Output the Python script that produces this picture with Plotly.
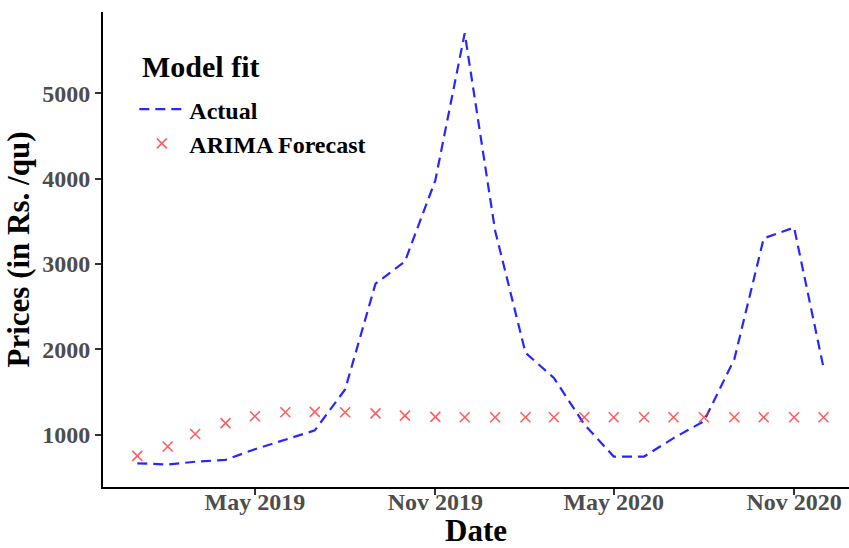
import plotly.graph_objects as go

# Monthly observations, Jan 2019 - Dec 2020
dates = [
    "2019-01-01", "2019-02-01", "2019-03-01", "2019-04-01", "2019-05-01", "2019-06-01",
    "2019-07-01", "2019-08-01", "2019-09-01", "2019-10-01", "2019-11-01", "2019-12-01",
    "2020-01-01", "2020-02-01", "2020-03-01", "2020-04-01", "2020-05-01", "2020-06-01",
    "2020-07-01", "2020-08-01", "2020-09-01", "2020-10-01", "2020-11-01", "2020-12-01",
]
actual = [
    665, 650, 683, 705, 830, 938, 1050, 1530, 2770, 3030, 3980, 5705,
    3390, 1960, 1665, 1120, 744, 744, 960, 1157, 1884, 3300, 3428, 1786,
]
arima_forecast = [
    752, 862, 1008, 1136, 1216, 1263, 1267, 1263, 1250, 1224, 1208, 1204,
    1204, 1204, 1204, 1204, 1204, 1204, 1204, 1204, 1204, 1204, 1204, 1204,
]
tick_dates = ["2019-05-01", "2019-11-01", "2020-05-01", "2020-11-01"]
tick_labels = ["May 2019", "Nov 2019", "May 2020", "Nov 2020"]
y_ticks = [1000, 2000, 3000, 4000, 5000]

serif = "Liberation Serif"

fig = go.Figure()
fig.add_trace(go.Scatter(
    x=dates, y=actual, mode="lines", name="Actual",
    line=dict(color="rgba(0,0,255,0.85)", width=2.2, dash="10px,6px"),
    legendgroup="a",
))
fig.add_trace(go.Scatter(
    x=dates, y=arima_forecast, mode="markers", name="ARIMA Forecast",
    marker=dict(symbol="x-thin", size=10, line=dict(color="rgba(255,40,40,0.75)", width=1.6)),
    legendgroup="b",
))

axis_common = dict(
    showline=True, linecolor="black", linewidth=2,
    ticks="outside", ticklen=6, tickwidth=1.5, tickcolor="#333333",
    showgrid=False, zeroline=False, automargin=False,
    tickfont=dict(family=serif, size=24, color="#4d4d4d", weight="bold"),
)

fig.update_layout(
    width=849, height=548,
    margin=dict(l=103, r=0, t=12, b=61),
    paper_bgcolor="white", plot_bgcolor="white",
    xaxis=dict(
        **axis_common,
        type="date",
        range=["2018-11-27", "2020-12-27"],
        tickvals=tick_dates, ticktext=tick_labels,
        ticklabelstandoff=-14,
        title=dict(text="<b>Date</b>", font=dict(family=serif, size=31, color="black"), standoff=2),
    ),
    yaxis=dict(
        **axis_common,
        range=[387, 5953],
        tickvals=y_ticks,
        title=dict(text="<b>Prices (in Rs. /qu)</b>", font=dict(family=serif, size=31, color="black"), standoff=3),
    ),
    legend=dict(
        x=0.042, y=0.842, xanchor="left", yanchor="top",
        bgcolor="rgba(0,0,0,0)",
        font=dict(family=serif, size=24, color="black", weight="bold"),
        itemwidth=45,
        tracegroupgap=0,
    ),
    annotations=[dict(
        text="<b>Model fit</b>", xref="paper", yref="paper",
        x=(140 - 103) / 746, y=(487 - 66) / 475, xanchor="left", yanchor="middle",
        showarrow=False, font=dict(family=serif, size=30, color="black"),
    )],
)

fig.write_html("out.html")
